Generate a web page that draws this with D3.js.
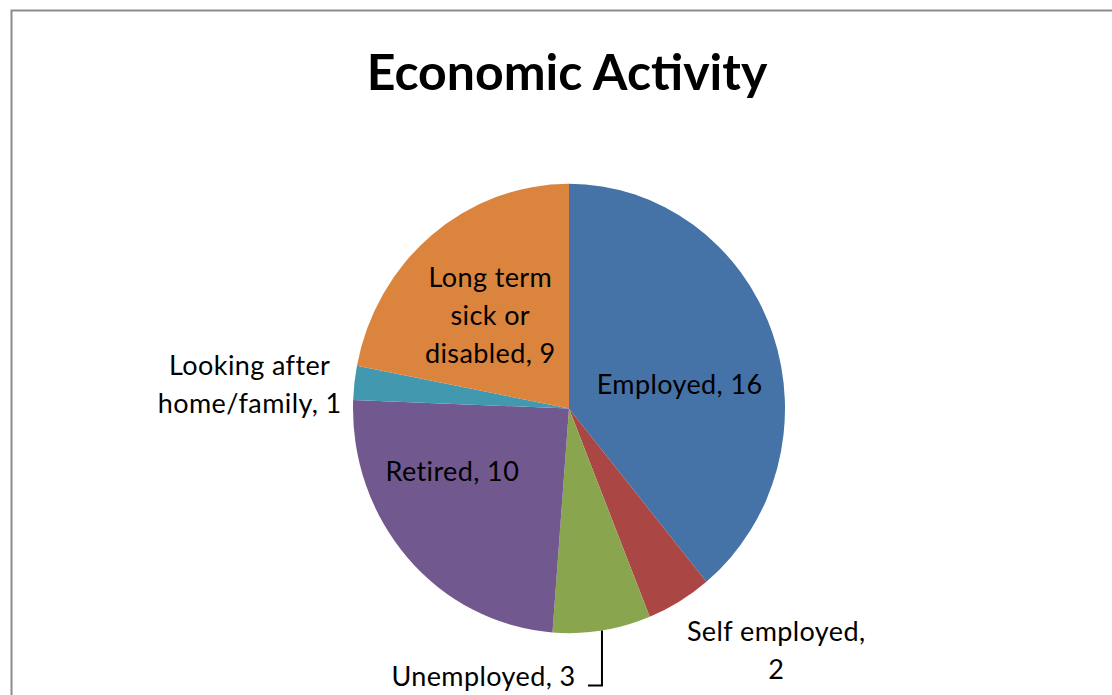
<!DOCTYPE html>
<html>
<head>
<meta charset="utf-8">
<script src="https://cdn.jsdelivr.net/npm/d3@7"></script>
<style>
  body { margin: 0; background: #fff; }
  text { font-family: Lato, "Open Sans", sans-serif; fill: #000; }
</style>
</head>
<body>
<div id="chart"></div>
<script>
const categories = ['Employed', 'Self employed', 'Unemployed', 'Retired', 'Looking after home/family', 'Long term sick or disabled']
const values = [16, 2, 3, 10, 1, 9]
const colors = ['#4572a7', '#aa4643', '#89a54e', '#71588f', '#4198af', '#db843d']

// label text lines, in slice order
const labelLines = [
  ['Employed, 16'],
  ['Self employed,', '2'],
  ['Unemployed, 3'],
  ['Retired, 10'],
  ['Looking after', 'home/family, 1'],
  ['Long term', 'sick or', 'disabled, 9']
]

const width = 1112, height = 695
const cx = 569, cy = 408.5, r = 216, ys = 1.04
const lineH = 38

// label offset from slice centroid (first baseline), excel "best fit" look
const labelOffset = [
  [9, 23], [152, 136], [-102, 166], [-36, -2], [-212, -21], [-10, -35]
]

const svg = d3.select('#chart').append('svg')
.attr('width', width)
.attr('height', height)

svg.append('rect')
.attr('x', 11.5).attr('y', 10.5)
.attr('width', width + 20).attr('height', height + 20)
.attr('fill', 'none')
.attr('stroke', '#8c8c8c')
.attr('stroke-width', 2)

svg.append('text')
.attr('x', 567).attr('y', 90)
.attr('text-anchor', 'middle')
.style('font-weight', 'bold')
.style('font-size', '50px')
.text('Economic Activity')

const pie = d3.pie().sort(null).value(d => d)
const arcs = pie(values)

const arc = d3.arc().innerRadius(0).outerRadius(r)

const g = svg.append('g')
.attr('transform', `translate(${cx},${cy}) scale(1,${ys})`)

g.selectAll('path')
.data(arcs)
.join('path')
.attr('d', arc)
.attr('fill', (d, i) => colors[i])

const labels = svg.append('g')

arcs.forEach((d, i) => {
  const c = arc.centroid(d)
  const x = cx + c[0] + labelOffset[i][0]
  const y = cy + c[1] * ys + labelOffset[i][1]
  const t = labels.append('text')
  .attr('text-anchor', 'middle')
  .style('font-size', '27px')
  .style('letter-spacing', '0.4px')
  labelLines[i].forEach((s, k) => {
    t.append('tspan').attr('x', x).attr('y', y + k * lineH).text(s)
  })
})

// leader line for Unemployed
const u = arcs[2]
const mid = (u.startAngle + u.endAngle) / 2
const px = cx + r * Math.sin(mid)
const py = cy - r * Math.cos(mid) * ys
const uy = cy + arc.centroid(u)[1] * ys + labelOffset[2][1]
svg.append('path')
.attr('d', `M${px},${py}V${uy}H${px - 14}`)
.attr('fill', 'none')
.attr('stroke', '#000')
.attr('stroke-width', 2)
</script>
</body>
</html>
